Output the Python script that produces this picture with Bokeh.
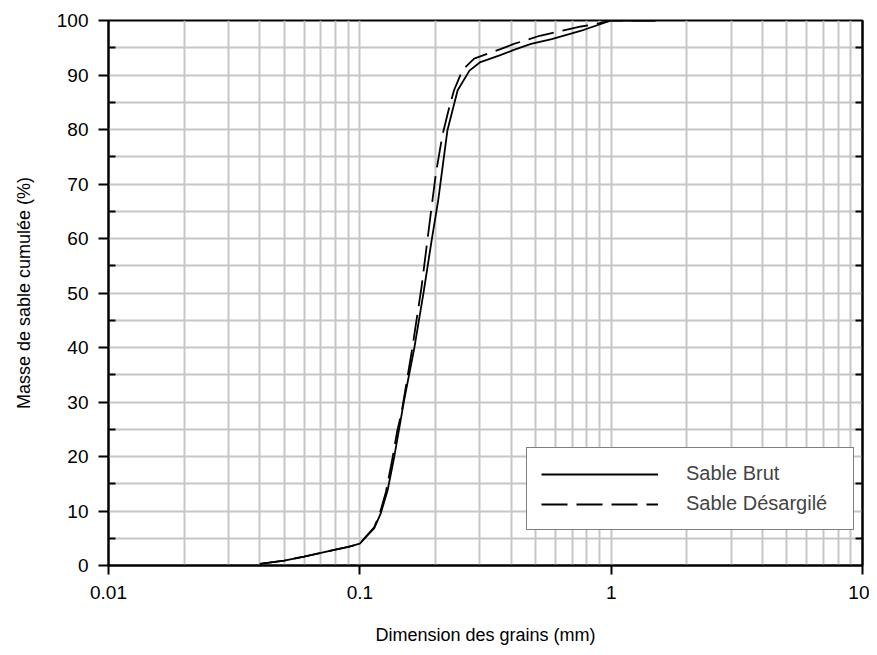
from bokeh.plotting import figure
from bokeh.models import (FixedTicker, LinearAxis, Legend, LegendItem,
                          Range1d, CustomJSTickFormatter)
from bokeh.embed import file_html
from bokeh.resources import INLINE

# Grain size (mm) and cumulative mass (%)
brut_x = [0.04, 0.05, 0.06, 0.07, 0.08, 0.09, 0.1, 0.107, 0.114, 0.121, 0.129,
          0.137, 0.143, 0.150, 0.165, 0.179, 0.193, 0.205, 0.223, 0.245, 0.273,
          0.30, 0.36, 0.41, 0.48, 0.58, 0.78, 1.0, 1.5]
brut_y = [0.3, 0.9, 1.65, 2.3, 2.9, 3.4, 4.0, 5.5, 6.8, 9.5, 13.8,
          19.9, 24.8, 30.3, 40.1, 49.9, 59.6, 67.0, 79.8, 87.2, 90.8,
          92.3, 93.6, 94.6, 95.7, 96.6, 98.3, 100.0, 100.0]

des_x = [0.04, 0.05, 0.06, 0.07, 0.08, 0.09, 0.1, 0.107, 0.114, 0.120, 0.127,
         0.135, 0.141, 0.1465, 0.162, 0.176, 0.1918, 0.2007, 0.213, 0.227, 0.237,
         0.256, 0.285, 0.365, 0.41, 0.52, 0.58, 0.76, 0.9, 1.0, 1.5]
des_y = [0.3, 0.9, 1.65, 2.3, 2.9, 3.4, 4.0, 5.6, 7.0, 9.5, 13.5,
         19.8, 24.8, 28.0, 40.1, 51.1, 64.8, 71.9, 78.9, 84.1, 87.2,
         90.9, 93.0, 94.8, 95.7, 97.2, 97.7, 98.9, 99.5, 100.0, 100.0]

x_major = [0.01, 0.1, 1, 10]
x_grid = [m * d for d in [0.01, 0.1, 1] for m in range(1, 10)] + [10]
y_major = list(range(0, 101, 10))
y_minor = list(range(5, 100, 10))
y_grid = list(range(0, 101, 5))

FONT = "Liberation Sans"

p = figure(width=869, height=652, x_axis_type="log",
           x_range=Range1d(0.01, 10), y_range=Range1d(0, 100),
           output_backend="svg", toolbar_location=None,
           min_border_left=108, min_border_right=7,
           min_border_top=20, min_border_bottom=87)

p.outline_line_color = "black"
p.outline_line_width = 2

# grids
p.xgrid.ticker = FixedTicker(ticks=x_grid)
p.ygrid.ticker = FixedTicker(ticks=y_grid)
for g in (p.xgrid, p.ygrid):
    g.grid_line_color = "#c6c6c6"
    g.grid_line_width = 2

# x axis
xa = p.xaxis[0]
xa.ticker = FixedTicker(ticks=x_major, minor_ticks=[])
xa.formatter = CustomJSTickFormatter(code="return String(tick)")
xa.major_tick_out = 9
xa.major_tick_in = 0
xa.major_tick_line_width = 2
xa.axis_line_width = 2
xa.major_label_standoff = 11
xa.axis_label = "Dimension des grains (mm)"
xa.axis_label_standoff = 23
xa.axis_label_text_font_style = "normal"

# y axis
ya = p.yaxis[0]
ya.ticker = FixedTicker(ticks=y_major, minor_ticks=y_minor)
ya.major_tick_out = 10
ya.major_tick_in = 0
ya.minor_tick_in = 7
ya.minor_tick_out = 0
ya.major_tick_line_width = 2
ya.minor_tick_line_width = 2
ya.axis_line_width = 2
ya.major_label_standoff = 10
ya.axis_label = "Masse de sable cumulée (%)"
ya.axis_label_standoff = 20
ya.axis_label_text_font_style = "normal"

for ax in (xa, ya):
    ax.major_label_text_font = FONT
    ax.major_label_text_font_size = "19px"
    ax.major_label_text_color = "black"
    ax.axis_label_text_font = FONT
    ax.axis_label_text_font_size = "18px"
    ax.axis_label_text_color = "black"
    ax.axis_line_color = "black"
    ax.major_tick_line_color = "black"
    ax.minor_tick_line_color = "black"

# right axis with inward ticks only
ra = LinearAxis(ticker=FixedTicker(ticks=y_minor, minor_ticks=[]),
                formatter=CustomJSTickFormatter(code="return ''"),
                major_tick_in=7, major_tick_out=0, major_tick_line_width=2,
                axis_line_width=2, major_label_standoff=0,
                major_label_text_font_size="1px")
p.add_layout(ra, "right")

r1 = p.line(brut_x, brut_y, line_color="black", line_width=1.8)
r2 = p.line(des_x, des_y, line_color="black", line_width=1.8, line_dash="26 9")

legend = Legend(items=[LegendItem(label="Sable Brut", renderers=[r1]),
                       LegendItem(label="Sable Désargilé", renderers=[r2])],
                location=(418, 35), glyph_width=117, glyph_height=20,
                label_height=20, label_standoff=28, padding=14, spacing=7,
                label_width=153, border_line_color="black", border_line_width=1.5,
                label_text_font=FONT, label_text_font_size="20px",
                background_fill_alpha=1.0, margin=0)
p.add_layout(legend)

open("out.html", "w").write(file_html(p, INLINE))
